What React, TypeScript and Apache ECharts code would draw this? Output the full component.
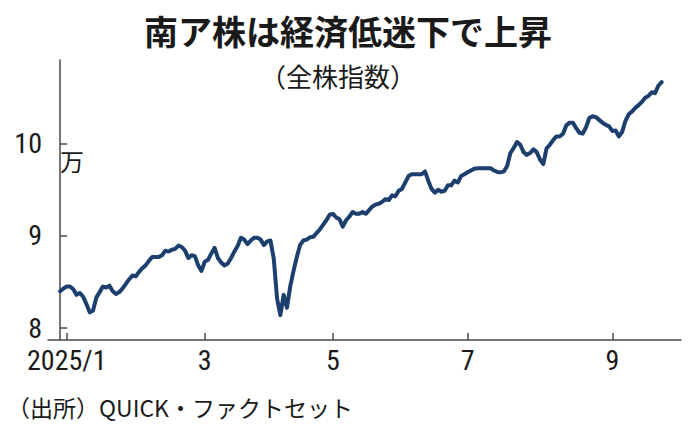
import React, { useEffect, useRef } from "react";
import * as echarts from "echarts";

// Trading-day index 0 = 2024/12/30; values in 万 (10,000 points)
const values: number[] = [
  8.40, 8.43, 8.45, 8.45, 8.42, 8.36, 8.38, 8.34, 8.26, 8.17,
  8.19, 8.33, 8.39, 8.45, 8.44, 8.46, 8.40, 8.37, 8.39, 8.43,
  8.48, 8.53, 8.57, 8.56, 8.61, 8.65, 8.68, 8.73, 8.77, 8.77,
  8.77, 8.79, 8.84, 8.83, 8.85, 8.86, 8.895, 8.88, 8.84, 8.76,
  8.79, 8.78, 8.68, 8.62, 8.72, 8.74, 8.81, 8.87, 8.76, 8.71,
  8.68, 8.70, 8.76, 8.83, 8.89, 8.98, 8.96, 8.91, 8.95, 8.98,
  8.98, 8.96, 8.90, 8.94, 8.95, 8.75, 8.32, 8.14, 8.36, 8.22,
  8.45, 8.62, 8.77, 8.90, 8.95, 8.96, 8.985, 8.99, 9.03, 9.07,
  9.12, 9.17, 9.23, 9.24, 9.20, 9.18, 9.10, 9.17, 9.21, 9.26,
  9.24, 9.24, 9.26, 9.24, 9.28, 9.32, 9.34, 9.35, 9.37, 9.40,
  9.39, 9.44, 9.43, 9.49, 9.51, 9.58, 9.65, 9.67, 9.67, 9.67,
  9.67, 9.70, 9.60, 9.51, 9.47, 9.50, 9.48, 9.49, 9.55, 9.55,
  9.60, 9.58, 9.65, 9.67, 9.69, 9.71, 9.73, 9.735, 9.735, 9.735,
  9.735, 9.735, 9.71, 9.695, 9.69, 9.70, 9.76, 9.90, 9.955, 10.02,
  9.99, 9.91, 9.88, 9.90, 9.94, 9.91, 9.83, 9.78, 9.95, 9.99,
  10.04, 10.08, 10.08, 10.11, 10.20, 10.23, 10.23, 10.17, 10.12, 10.11,
  10.18, 10.28, 10.30, 10.29, 10.26, 10.23, 10.205, 10.19, 10.14, 10.145,
  10.08, 10.13, 10.25, 10.32, 10.35, 10.39, 10.42, 10.455, 10.50, 10.52,
  10.56, 10.55, 10.63, 10.67,
];

// x-axis month ticks (trading-day index of first session of the month)
const monthTickIndex: number[] = [2, 44, 83, 124, 168];
const monthTickLabels: string[] = ["2025/1", "3", "5", "7", "9"];

const yTicks: number[] = [8, 9, 10];

const titleText = "南ア株は経済低迷下で上昇";
const subtitleText = "（全株指数）";
const unitText = "万";
const sourceText = "（出所）QUICK・ファクトセット";

const NARROW = "'Roboto Condensed', 'Liberation Sans', sans-serif";
const CJK = "'Noto Sans CJK JP', 'Noto Sans', sans-serif";

export default function App() {
  const ref = useRef<HTMLDivElement>(null);
  useEffect(() => {
    if (!ref.current) return;
    const chart = echarts.init(ref.current, undefined, { renderer: "svg" });
    const labelMap: Record<number, string> = {};
    monthTickIndex.forEach((v, i) => (labelMap[v] = monthTickLabels[i]));
    chart.setOption({
      animation: false,
      backgroundColor: "#ffffff",
      title: {
        text: titleText,
        left: "center",
        top: 8,
        textStyle: {
          fontFamily: CJK,
          fontSize: 34,
          fontWeight: "bold",
          color: "#1a1a1a",
        },
      },
      grid: { left: 48, right: 15, top: 60, bottom: 91, containLabel: false },
      xAxis: {
        type: "value",
        min: -3.7,
        max: 188.9,
        splitLine: { show: false },
        axisLine: { show: true, lineStyle: { color: "#4a4a4a", width: 1.5 } },
        axisTick: {
          show: true,
          inside: true,
          length: 7,
          customValues: monthTickIndex,
          lineStyle: { color: "#4a4a4a", width: 1.5 },
        },
        axisLabel: {
          customValues: monthTickIndex,
          formatter: (v: number) => labelMap[Math.round(v)] ?? "",
          fontFamily: NARROW,
          fontSize: 28,
          color: "#1a1a1a",
          margin: 6,
        },
      },
      yAxis: {
        type: "value",
        min: 7.87,
        max: 10.91,
        splitLine: { show: false },
        axisLine: { show: true, lineStyle: { color: "#4a4a4a", width: 1.5 } },
        axisTick: {
          show: true,
          inside: true,
          length: 7,
          customValues: yTicks,
          lineStyle: { color: "#4a4a4a", width: 1.5 },
        },
        axisLabel: {
          customValues: yTicks,
          formatter: (v: number) => String(v),
          fontFamily: NARROW,
          fontSize: 28,
          color: "#1a1a1a",
          margin: 6,
        },
      },
      graphic: [
        {
          type: "text",
          x: 338,
          y: 75,
          style: {
            text: subtitleText,
            font: `26px ${CJK}`,
            fill: "#1a1a1a",
            textAlign: "center",
            textVerticalAlign: "middle",
          },
        },
        {
          type: "text",
          x: 60,
          y: 160,
          style: {
            text: unitText,
            font: `24px ${CJK}`,
            fill: "#1a1a1a",
            textAlign: "left",
            textVerticalAlign: "middle",
          },
        },
        {
          type: "text",
          x: 7,
          y: 407,
          style: {
            text: sourceText,
            font: `23px ${CJK}`,
            fill: "#1a1a1a",
            textAlign: "left",
            textVerticalAlign: "middle",
          },
        },
      ],
      series: [
        {
          type: "line",
          data: values.map((v, i) => [i, v]),
          showSymbol: false,
          symbol: "none",
          lineStyle: { color: "#1c3f6e", width: 4, join: "round", cap: "round" },
        },
      ],
    });
    return () => chart.dispose();
  }, []);
  return (
    <div
      ref={ref}
      style={{ position: "fixed", left: 0, top: 0, width: 696, height: 431 }}
    />
  );
}
